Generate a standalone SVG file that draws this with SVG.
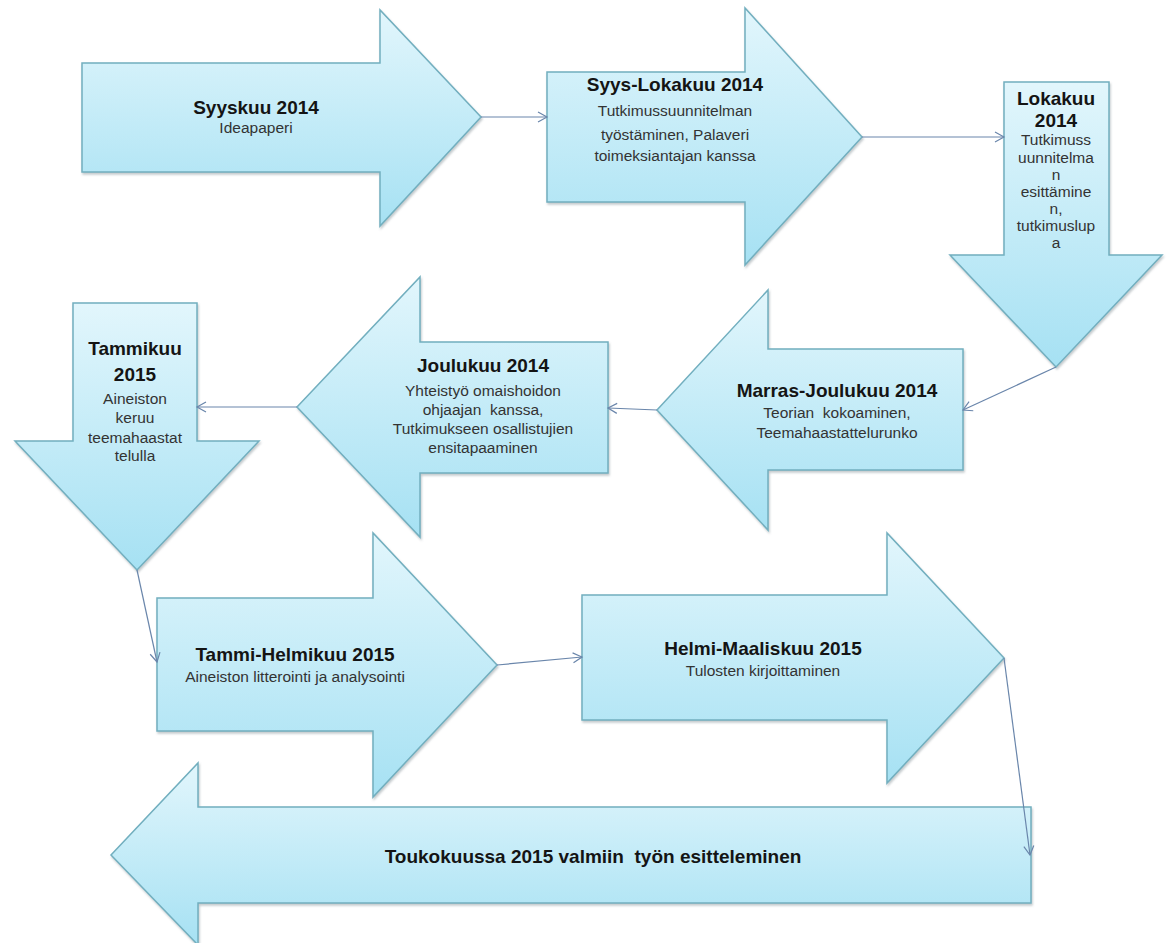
<svg xmlns="http://www.w3.org/2000/svg" width="1169" height="943" viewBox="0 0 1169 943">
<defs>
<linearGradient id="g" x1="0" y1="0" x2="0" y2="1">
<stop offset="0" stop-color="#e2f6fc"/>
<stop offset="1" stop-color="#a6e1f3"/>
</linearGradient>
<filter id="sh" x="-5%" y="-5%" width="110%" height="115%">
<feDropShadow dx="1" dy="2" stdDeviation="1.2" flood-color="#7a8a90" flood-opacity="0.45"/>
</filter>
<marker id="ah" markerWidth="12" markerHeight="12" refX="10" refY="6" orient="auto" markerUnits="userSpaceOnUse">
<path d="M1,1 L10,6 L1,11" fill="none" stroke="#6a86ab" stroke-width="1.2"/>
</marker>
<style>
.ar{fill:url(#g);stroke:#72afbf;stroke-width:1.5;filter:url(#sh)}
.t{font-family:"Liberation Sans",Arial,sans-serif;font-weight:bold;font-size:19px;fill:#141414;text-anchor:middle;white-space:pre}
.s{font-family:"Liberation Sans",Arial,sans-serif;font-size:15.5px;fill:#333;text-anchor:middle;white-space:pre}
.c{fill:none;stroke:#6a86ab;stroke-width:1.2;marker-end:url(#ah)}
</style>
</defs>
<rect width="1169" height="943" fill="#fff"/>
<g id="n1">
<path class="ar" d="M82,63 H380 V10 L481,117 L380,226 V172 H82 Z"/>
<text class="t" x="256" y="114">Syyskuu 2014</text>
<text class="s" x="256" y="133">Ideapaperi</text>
</g>
<g id="n2">
<path class="ar" d="M547,72 H745 V8 L862,137 L745,265 V202 H547 Z"/>
<text class="t" x="675" y="91">Syys-Lokakuu 2014</text>
<text class="s" x="675" y="116">Tutkimussuunnitelman</text>
<text class="s" x="675" y="140">työstäminen, Palaveri</text>
<text class="s" x="675" y="161">toimeksiantajan kanssa</text>
</g>
<g id="n3">
<path class="ar" d="M1004,82 H1109 V255 H1162 L1056,367 L950,255 H1004 Z"/>
<text class="t" x="1056" y="105">Lokakuu</text>
<text class="t" x="1056" y="127">2014</text>
<text class="s" x="1056" y="145">Tutkimuss</text>
<text class="s" x="1056" y="163">uunnitelma</text>
<text class="s" x="1056" y="180">n</text>
<text class="s" x="1056" y="197">esittämine</text>
<text class="s" x="1056" y="214">n,</text>
<text class="s" x="1056" y="231">tutkimuslup</text>
<text class="s" x="1056" y="248">a</text>
</g>
<g id="n4">
<path class="ar" d="M963,349 V470 H768 V530 L657,410 L768,290 V349 Z"/>
<text class="t" x="837" y="397">Marras-Joulukuu 2014</text>
<text class="s" x="837" y="418" xml:space="preserve">Teorian  kokoaminen,</text>
<text class="s" x="837" y="438">Teemahaastattelurunko</text>
</g>
<g id="n5">
<path class="ar" d="M608,342 V473 H420 V537 L297,407 L420,277 V342 Z"/>
<text class="t" x="483" y="372">Joulukuu 2014</text>
<text class="s" x="483" y="396">Yhteistyö omaishoidon</text>
<text class="s" x="483" y="415" xml:space="preserve">ohjaajan  kanssa,</text>
<text class="s" x="483" y="434">Tutkimukseen osallistujien</text>
<text class="s" x="483" y="453">ensitapaaminen</text>
</g>
<g id="n6">
<path class="ar" d="M73,303 H197 V441 H259 L137,570 L15,441 H73 Z"/>
<text class="t" x="135" y="355">Tammikuu</text>
<text class="t" x="135" y="381">2015</text>
<text class="s" x="135" y="404">Aineiston</text>
<text class="s" x="135" y="423">keruu</text>
<text class="s" x="135" y="443">teemahaastat</text>
<text class="s" x="135" y="461">telulla</text>
</g>
<g id="n7">
<path class="ar" d="M157,598 H373 V533 L497,665 L373,797 V731 H157 Z"/>
<text class="t" x="295" y="661">Tammi-Helmikuu 2015</text>
<text class="s" x="295" y="682">Aineiston litterointi ja analysointi</text>
</g>
<g id="n8">
<path class="ar" d="M582,595 H887 V533 L1004,658 L887,783 V720 H582 Z"/>
<text class="t" x="763" y="655">Helmi-Maaliskuu 2015</text>
<text class="s" x="763" y="676">Tulosten kirjoittaminen</text>
</g>
<g id="n9">
<path class="ar" d="M1031,807 V903 H198 V945 L111,855 L198,763 V807 Z"/>
<text class="t" x="593" y="863" xml:space="preserve">Toukokuussa 2015 valmiin  työn esitteleminen</text>
</g>
<g id="connectors">
<line class="c" x1="481" y1="117" x2="547" y2="117"/>
<line class="c" x1="862" y1="137" x2="1004" y2="137"/>
<line class="c" x1="1056" y1="367" x2="963" y2="410"/>
<line class="c" x1="657" y1="410" x2="608" y2="408"/>
<line class="c" x1="297" y1="407" x2="197" y2="407"/>
<line class="c" x1="137" y1="570" x2="157" y2="662"/>
<line class="c" x1="497" y1="665" x2="582" y2="657"/>
<line class="c" x1="1004" y1="658" x2="1030" y2="855"/>
</g>
</svg>
